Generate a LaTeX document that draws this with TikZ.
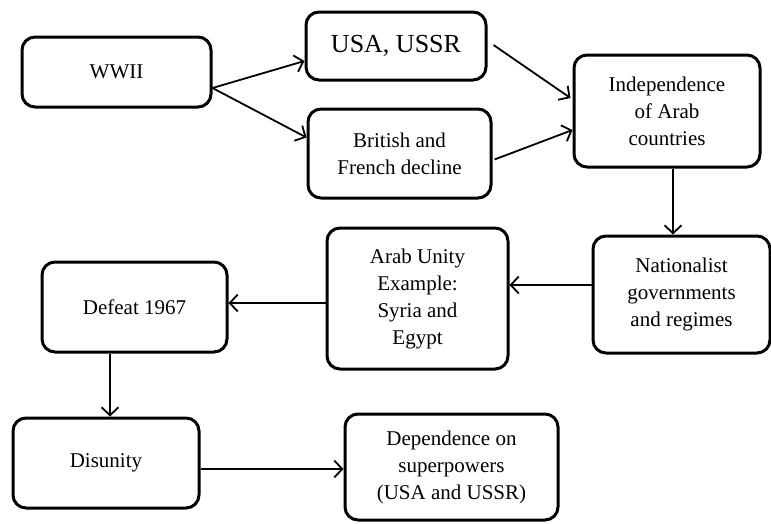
\documentclass[tikz,border=0pt]{standalone}
\usepackage{fontspec}
\setmainfont{Liberation Serif}
\usetikzlibrary{arrows.meta}
\begin{document}
\begin{tikzpicture}[x=1pt,y=-1pt,
  box/.style={draw, line width=3pt, rounded corners=13pt, fill=white,
    align=center, font=\fontsize{21}{27}\selectfont, inner sep=2pt},
  arr/.style={line width=1.8pt, -{Straight Barb[length=8pt,width=17pt,line width=1.8pt]}}]
\useasboundingbox[fill=white] (0,0) rectangle (771,523);
\node[box, minimum width=189pt, minimum height=70pt] (w) at (116.5,72) {WWII};
\node[box, minimum width=180pt, minimum height=68pt, font=\fontsize{26}{30}\selectfont] (usa) at (396,46) {USA, USSR};
\node[box, minimum width=183pt, minimum height=89pt] (brit) at (399.5,153.5) {British and\\French decline};
\node[box, minimum width=186pt, minimum height=112pt] (ind) at (667,111) {Independence\\of Arab\\countries};
\node[box, minimum width=177pt, minimum height=117pt] (nat) at (681.5,294.5) {Nationalist\\governments\\and regimes};
\node[box, minimum width=181pt, minimum height=141pt] (arab) at (417.5,298.5) {Arab Unity\\Example:\\Syria and\\Egypt};
\node[box, minimum width=185pt, minimum height=90pt] (def) at (134.5,307) {Defeat 1967};
\node[box, minimum width=186pt, minimum height=90pt] (dis) at (106,463) {Disunity};
\node[box, minimum width=213pt, minimum height=106pt] (dep) at (451.5,467) {Dependence on\\superpowers\\(USA and USSR)};
\coordinate (wout) at ([yshift=-16pt]w.east);
\draw[arr] (wout) -- ([yshift=-15pt]usa.west);
\draw[arr] (wout) -- ([yshift=16pt]brit.west);
\draw[arr] ([xshift=6pt,yshift=1pt]usa.east) -- ([xshift=-2pt,yshift=13pt]ind.west);
\draw[arr] ([xshift=2pt,yshift=-6pt]brit.east) -- ([yshift=-19pt]ind.west);
\draw[arr] ([xshift=6pt]ind.south) -- ([xshift=-8.5pt]nat.north);
\draw[arr] ([yshift=9.5pt]nat.west) -- ([yshift=13.5pt]arab.east);
\draw[arr] ([yshift=-4.5pt]arab.west) -- ([yshift=4pt]def.east);
\draw[arr] ([xshift=-24.5pt]def.south) -- ([xshift=4pt]dis.north);
\draw[arr] ([yshift=-6pt]dis.east) -- ([yshift=-2pt]dep.west);
\end{tikzpicture}
\end{document}
